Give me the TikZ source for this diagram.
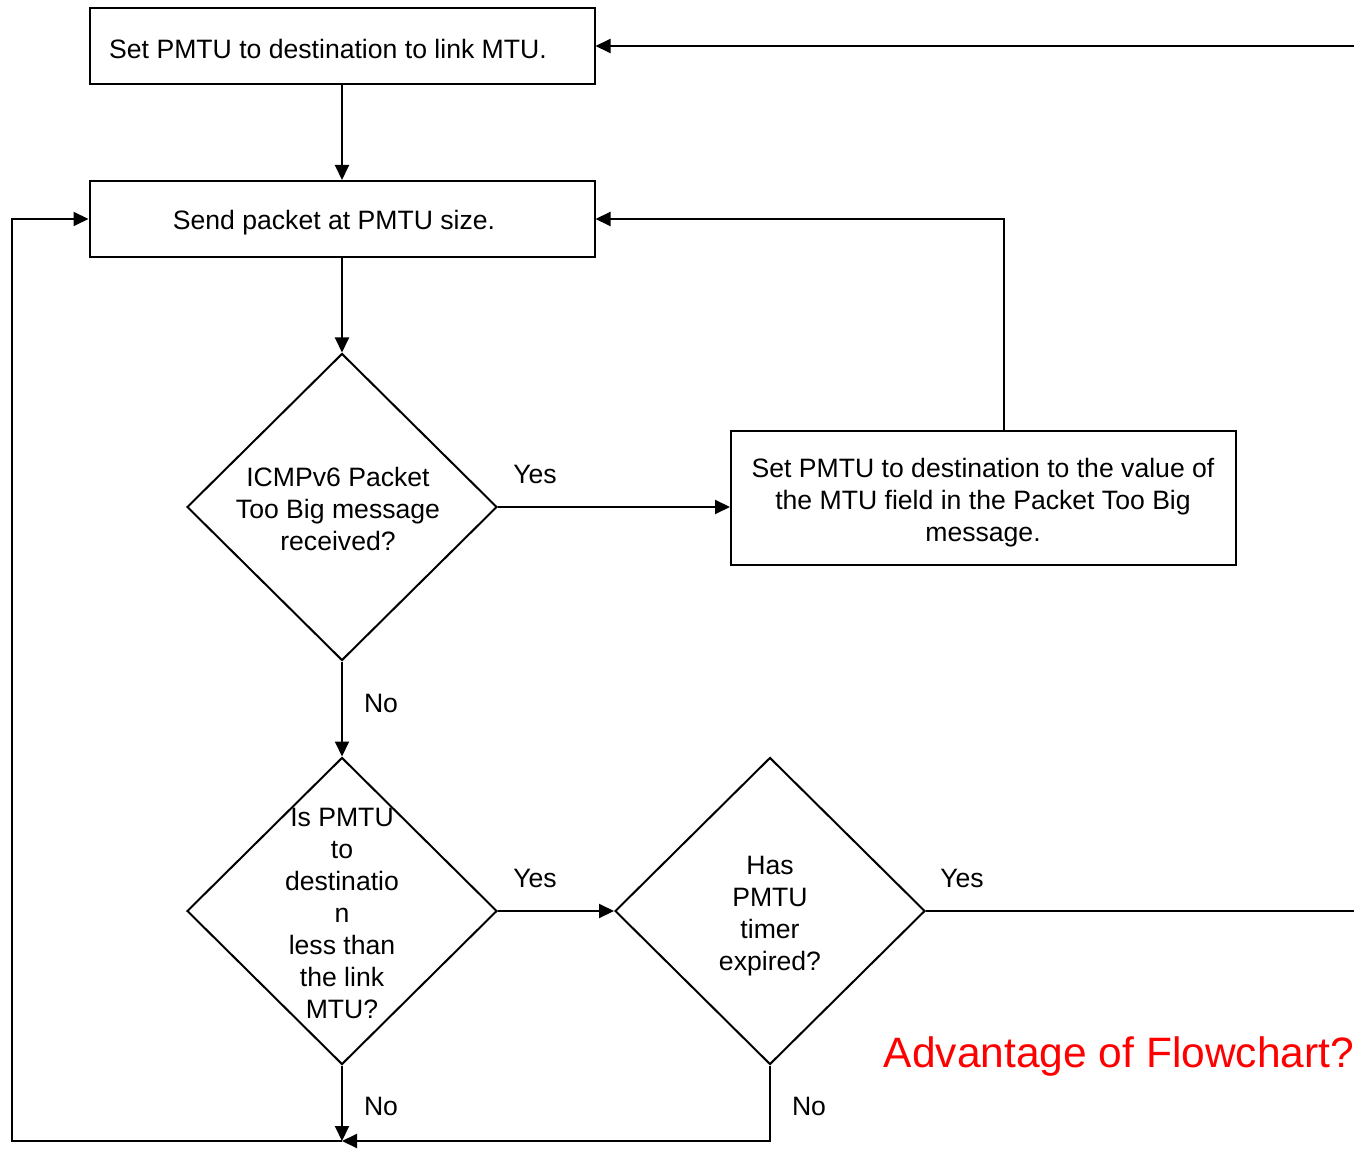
\documentclass[tikz,border=0pt]{standalone}
\usepackage{fontspec}
\setmainfont{Liberation Sans}
\usetikzlibrary{arrows.meta,shapes.geometric}
\begin{document}
\begin{tikzpicture}[x=0.5pt,y=-0.5pt,
  line width=1pt,
  >={Triangle[length=7.5pt,width=7pt]},
  proc/.style={draw,rectangle,line width=1pt,inner sep=0pt},
  decide/.style={draw,diamond,line width=1pt,inner sep=0pt,
    minimum width=155pt,minimum height=153.5pt},
  txt/.style={font=\fontsize{13.3pt}{16pt}\selectfont,align=center,inner sep=0pt},
  lbl/.style={font=\fontsize{13.3pt}{16pt}\selectfont,inner sep=0pt}]
\useasboundingbox (0,0) rectangle (1354,1149);

% process boxes
\node[proc,minimum width=252.5pt,minimum height=38pt] (box1) at (342,46) {};
\node[proc,minimum width=252.5pt,minimum height=38pt] (box2) at (342,219) {};
\node[proc,minimum width=252.5pt,minimum height=67pt] (box3) at (983.5,498) {};

% decisions
\node[decide] (d1) at (342,507) {};
\node[decide] (d2) at (342,911) {};
\node[decide] (d3) at (770,911) {};

% texts
\node[txt] (t1) at (328,48.5) {Set PMTU to destination to link MTU.};
\node[txt] (t2) at (334,223) {Send packet at PMTU size.};
\node[txt] (t3) at (983,503) {Set PMTU to destination to the value of\\the MTU field in the Packet Too Big\\message.};
\node[txt] (td1) at (338,509) {ICMPv6 Packet\\Too Big message\\received?};
\node[txt] (td2) at (342,913) {Is PMTU\\to\\destinatio\\n\\less than\\the link\\MTU?};
\node[txt] (td3) at (770,916) {Has\\PMTU\\timer\\expired?};

\node[txt,text=red,font=\fontsize{21.25pt}{25pt}\selectfont] (adv) at (1119,1057) {Advantage of Flowchart?};

% connector ends
\coordinate (e1) at (1354,46);
\coordinate (e2) at (1354,911);
\coordinate (j) at (342,1141);
\coordinate (l) at (12,1141);

% connectors
\draw[->] (e1) -- (box1.east);
\draw[->] (box1) -- (box2);
\draw[->] (box2) -- (d1.north);
\draw[->] (d1.east) -- (d1.east -| box3.west);
\draw[->] ([xshift=10pt]box3.north) |- (box2.east);
\draw[->] (d1.south) -- (d2.north);
\draw[->] (d2.east) -- (d3.west);
\draw (d3.east) -- (e2);
\draw[->] (d2.south) -- (j);
\draw[->] (d3.south) |- (j);
\draw[->] (j) -- (l) |- (box2.west);

% branch labels
\node[lbl] (y1) at (535,474) {Yes};
\node[lbl] (y2) at (535,878) {Yes};
\node[lbl] (y3) at (962,878) {Yes};
\node[lbl] (n1) at (381,703) {No};
\node[lbl] (n2) at (381,1106) {No};
\node[lbl] (n3) at (809,1106) {No};
\end{tikzpicture}
\end{document}
